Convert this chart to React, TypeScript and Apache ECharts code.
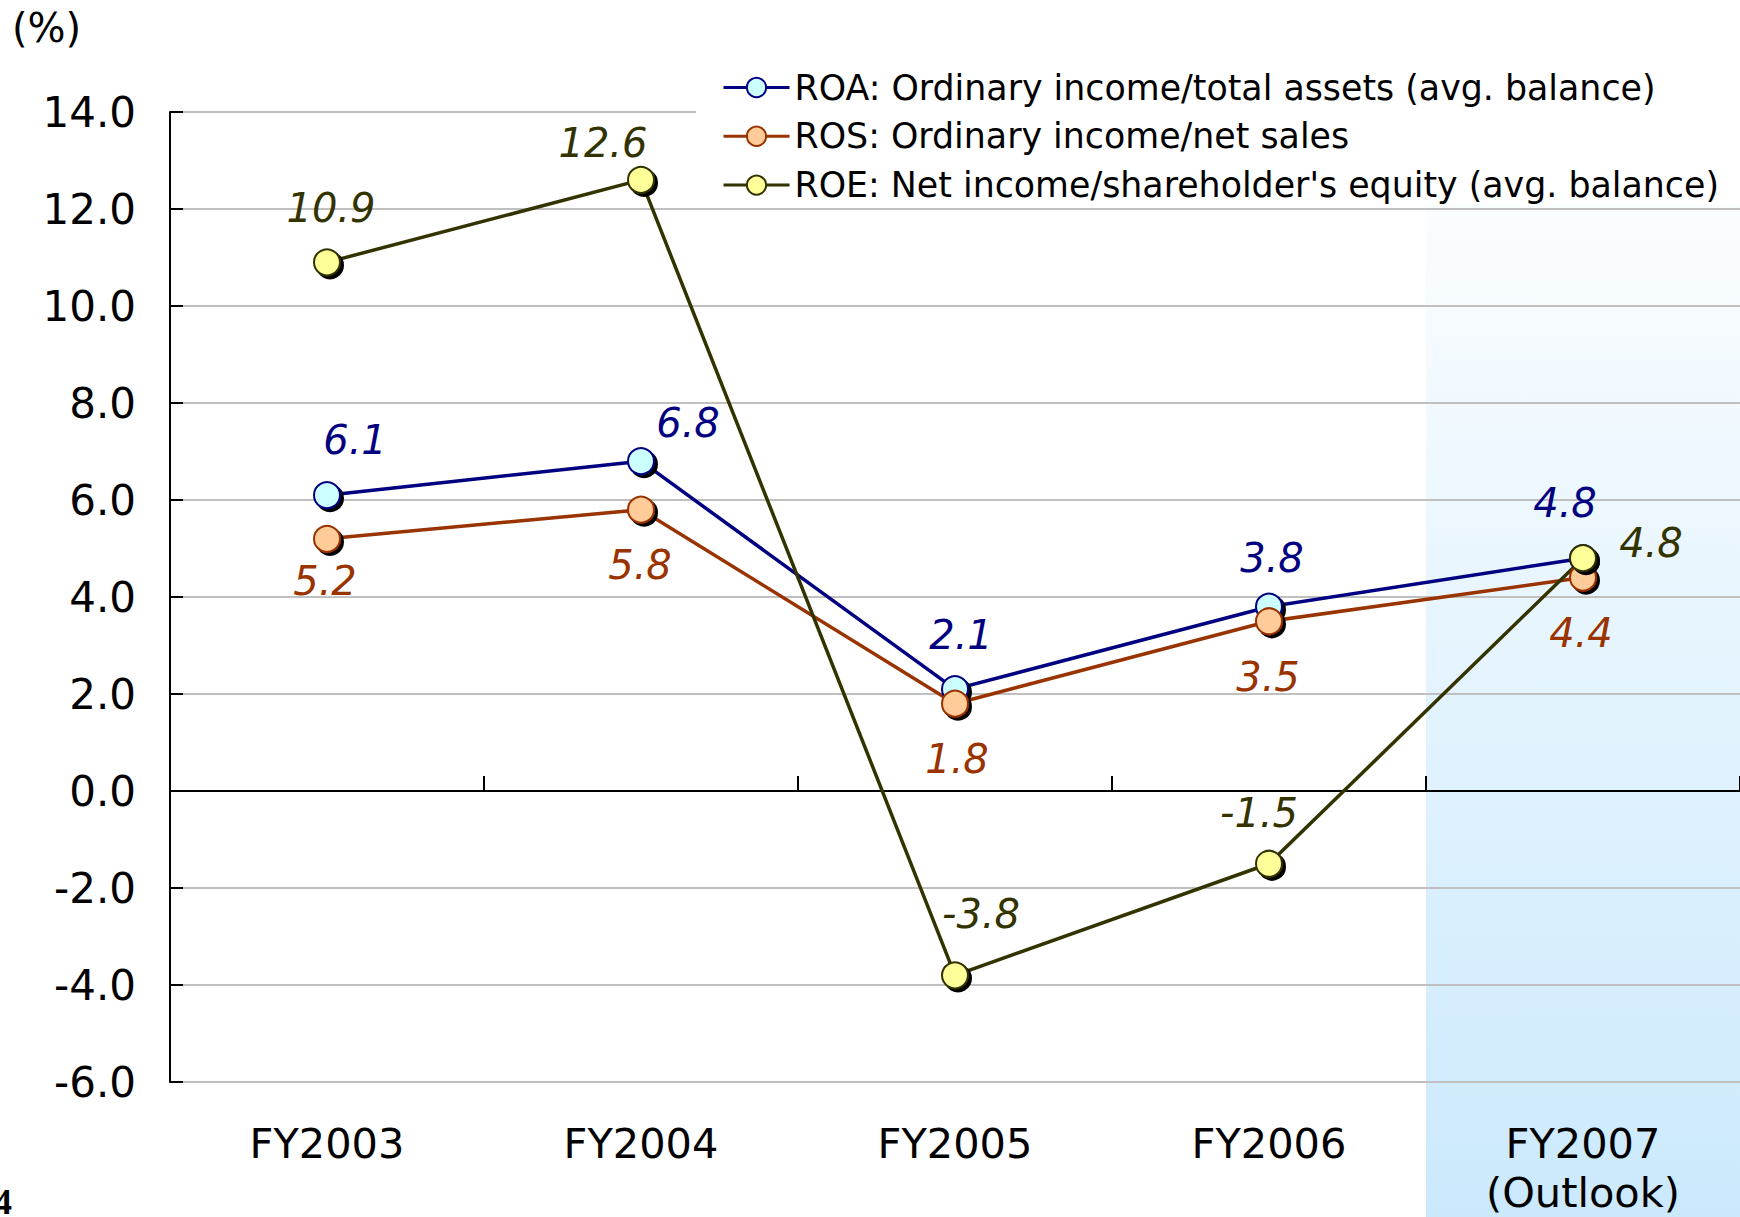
import React, { useEffect, useRef } from "react";
import * as echarts from "echarts";

const categories = ["FY2003", "FY2004", "FY2005", "FY2006", "FY2007\n(Outlook)"];
const roaValues = [6.1, 6.8, 2.1, 3.8, 4.8];
const rosValues = [5.2, 5.8, 1.8, 3.5, 4.4];
const roeValues = [10.9, 12.6, -3.8, -1.5, 4.8];
const seriesNames = [
  "ROA: Ordinary income/total assets (avg. balance)",
  "ROS: Ordinary income/net sales",
  "ROE: Net income/shareholder's equity (avg. balance)",
];
const yMin = -6;
const yMax = 14;
const yInterval = 2;

// label placement (layout only)
const roaLabelOffsets = [[28, -55], [47, -38], [6, -54], [3, -49], [-18, -55]];
const rosLabelOffsets = [[-2, 42], [-1, 55], [2, 55], [-1, 56], [-2, 55]];
const roeLabelOffsets = [[4, -54], [-38, -37], [26, -61], [-10, -51], [68, -15]];

const FONT = "'DejaVu Sans', Verdana, sans-serif";
const W = 1740;
const H = 1217;

function buildSeries(name: string, values: number[], offsets: number[][], line: string, fill: string) {
  return {
    name,
    type: "line",
    xAxisIndex: 0,
    yAxisIndex: 0,
    data: values.map((v, i) => ({
      value: v,
      label: { offset: offsets[i] },
    })),
    symbol: "circle",
    symbolSize: 26,
    lineStyle: { color: line, width: 3.5 },
    itemStyle: {
      color: fill,
      borderColor: line,
      borderWidth: 2,
      shadowColor: "#000000",
      shadowBlur: 0,
      shadowOffsetX: 3,
      shadowOffsetY: 3,
    },
    label: {
      show: true,
      position: "inside",
      formatter: (p: any) => Number(p.value).toFixed(1),
      fontFamily: FONT,
      fontStyle: "italic",
      fontSize: 40,
      color: line,
    },
    emphasis: { disabled: true },
  };
}

export default function App() {
  const ref = useRef<HTMLDivElement>(null);
  useEffect(() => {
    if (!ref.current) return;
    const chart = echarts.init(ref.current, undefined, { renderer: "svg" });
    const option: any = {
      animation: false,
      backgroundColor: "#ffffff",
      textStyle: { fontFamily: FONT },
      grid: { left: 170, right: 0, top: 112, bottom: 135, containLabel: false },
      graphic: [
        {
          type: "rect",
          z: -10,
          shape: { x: 1426, y: 112, width: 314, height: 1105 },
          style: {
            fill: new echarts.graphic.LinearGradient(0, 0, 0, 1, [
              { offset: 0, color: "#FFFFFF" },
              { offset: 1, color: "#CBE9FD" },
            ]),
          },
          silent: true,
        },
        {
          type: "rect",
          z: 1,
          shape: { x: 696, y: 0, width: 1044, height: 205 },
          style: { fill: "#ffffff" },
          silent: true,
        },
        {
          type: "text",
          z: 5,
          left: 12,
          top: 8,
          style: { text: "(%)", fontFamily: FONT, fontSize: 40, fill: "#000" },
        },
        {
          type: "text",
          z: 5,
          left: -6,
          top: 1184,
          style: {
            text: "4",
            fontFamily: "'Liberation Serif', 'DejaVu Serif', serif",
            fontWeight: "bold",
            fontSize: 36,
            fill: "#000",
          },
        },
      ],
      legend: {
        orient: "vertical",
        left: 722,
        top: 70,
        padding: 0,
        itemWidth: 66,
        itemHeight: 24,
        itemGap: 13.8,
        data: seriesNames,
        textStyle: { fontFamily: FONT, fontSize: 34.8, lineHeight: 34, color: "#000" },
        lineStyle: { width: 3 },
        itemStyle: { shadowBlur: 0, shadowOffsetX: 0, shadowOffsetY: 0, borderWidth: 2 },
        selectedMode: false,
      },
      xAxis: [
        {
          type: "category",
          data: categories,
          position: "bottom",
          boundaryGap: true,
          axisLine: { show: false, onZero: false },
          axisTick: { show: false },
          splitLine: { show: false },
          axisLabel: {
            interval: 0,
            margin: 37,
            fontFamily: FONT,
            fontSize: 41.5,
            lineHeight: 49,
            color: "#000",
          },
        },
        {
          type: "category",
          data: categories,
          position: "bottom",
          boundaryGap: true,
          axisLine: { show: true, onZero: true, lineStyle: { color: "#000", width: 2 } },
          axisTick: { show: true, inside: true, length: 15, interval: 0, lineStyle: { color: "#000", width: 2 } },
          axisLabel: { show: false },
          splitLine: { show: false },
        },
      ],
      yAxis: {
        type: "value",
        min: yMin,
        max: yMax,
        interval: yInterval,
        axisLine: { show: true, lineStyle: { color: "#000", width: 2 } },
        axisTick: { show: true, inside: true, length: 13, lineStyle: { color: "#000", width: 2 } },
        splitLine: { show: true, lineStyle: { color: "#C0C0C0", width: 2 } },
        axisLabel: {
          margin: 34,
          fontFamily: FONT,
          fontSize: 42,
          color: "#000",
          formatter: (v: number) => v.toFixed(1),
        },
      },
      series: [
        buildSeries(seriesNames[0], roaValues, roaLabelOffsets, "#000080", "#CCFFFF"),
        buildSeries(seriesNames[1], rosValues, rosLabelOffsets, "#993300", "#FFCC99"),
        buildSeries(seriesNames[2], roeValues, roeLabelOffsets, "#333300", "#FFFF99"),
      ],
    };
    chart.setOption(option);
    return () => chart.dispose();
  }, []);
  return (
    <div
      ref={ref}
      style={{ position: "fixed", left: 0, top: 0, width: W, height: H, background: "#fff" }}
    />
  );
}
